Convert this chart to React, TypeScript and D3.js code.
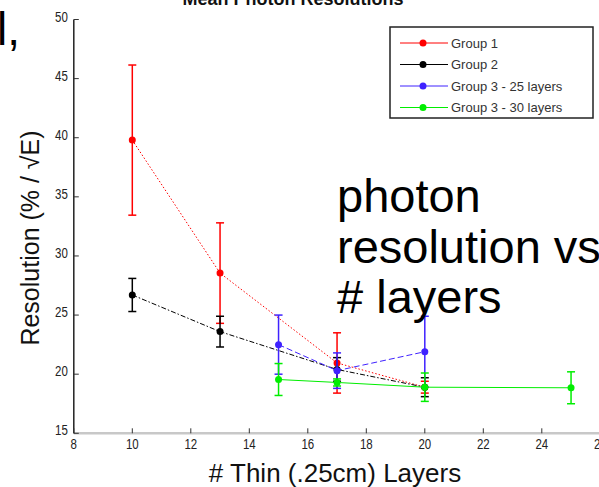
import React from "react";
import * as d3 from "d3";

const W = 599;
const H = 487;

const xTicks = [8, 10, 12, 14, 16, 18, 20, 22, 24, 26];
const yTicks = [15, 20, 25, 30, 35, 40, 45, 50];

const group1X = [10, 13, 17, 20];
const group1Y = [39.8, 28.55, 20.95, 18.9];
const group1Err = [6.35, 4.25, 2.55, 0.5];

const group2X = [10, 13, 17, 20];
const group2Y = [26.7, 23.6, 20.4, 18.9];
const group2Err = [1.4, 1.3, 1.0, 0.8];

const group3aX = [15, 17, 20];
const group3aY = [22.5, 20.3, 21.9];
const group3aErr = [2.5, 1.5, 3.0];

const group3bX = [15, 17, 20, 25];
const group3bY = [19.55, 19.3, 18.9, 18.85];
const group3bErr = [1.35, 0.3, 1.2, 1.35];

const seriesNames = ["Group 1", "Group 2", "Group 3 - 25 layers", "Group 3 - 30 layers"];
const seriesColors = ["#ff0000", "#000000", "#3f22ff", "#00ee00"];
const seriesDash = ["1.5,2", "5,2,1.5,2", "6,3", ""];

export default function App() {
  const x = d3.scaleLinear().domain([8, 26]).range([73.8, 600.3]);
  const y = d3.scaleLinear().domain([15, 50]).range([433.3, 19.5]);

  const series = [
    { xs: group1X, ys: group1Y, es: group1Err },
    { xs: group2X, ys: group2Y, es: group2Err },
    { xs: group3aX, ys: group3aY, es: group3aErr },
    { xs: group3bX, ys: group3bY, es: group3bErr },
  ];

  const line = d3
    .line<[number, number]>()
    .x((d) => x(d[0]))
    .y((d) => y(d[1]));

  const font = "'Liberation Sans', Arial, sans-serif";

  return (
    <svg
      width={W}
      height={H}
      style={{ position: "absolute", left: 0, top: 0, background: "#fff" }}
      fontFamily={font}
    >
      {/* slide fragments */}
      <text x={-3} y={45} fontSize={46} fill="#000">l,</text>
      <text x={293} y={5} fontSize={18} fontWeight="bold" textAnchor="middle" fill="#111">
        Mean Photon Resolutions
      </text>

      {/* axes */}
      <line x1={x(8)} x2={W} y1={y(15)} y2={y(15)} stroke="#c8c8c8" strokeWidth={2.5} />
      <line x1={x(8)} x2={x(8)} y1={y(15)} y2={y(50)} stroke="#222" strokeWidth={1.5} />
      {xTicks.map((t) => (
        <g key={"xt" + t}>
          <line x1={x(t)} x2={x(t)} y1={y(15)} y2={y(15) - 5} stroke="#333" strokeWidth={1} />
          <text
            transform={`translate(${x(t)},${y(15) + 16}) scale(0.82,1)`}
            fontSize={14}
            textAnchor="middle"
            fill="#222"
          >
            {t}
          </text>
        </g>
      ))}
      {yTicks.map((t) => (
        <g key={"yt" + t}>
          <line x1={x(8)} x2={x(8) + 5} y1={y(t)} y2={y(t)} stroke="#333" strokeWidth={1} />
          <text
            transform={`translate(${x(8) - 6},${y(t) + 2}) scale(0.82,1)`}
            fontSize={14}
            textAnchor="end"
            fill="#222"
          >
            {t}
          </text>
        </g>
      ))}
      <text
        transform={`translate(39,238) rotate(-90)`}
        fontSize={25}
        textAnchor="middle"
        fill="#111"
      >
        Resolution (% / √E)
      </text>
      <text x={335} y={482} fontSize={26} textAnchor="middle" fill="#111">
        # Thin (.25cm) Layers
      </text>

      {/* series */}
      {series.map((s, i) => {
        const pts = s.xs.map((xv, j) => [xv, s.ys[j]] as [number, number]);
        return (
          <g key={"s" + i}>
            <path
              d={line(pts) || ""}
              fill="none"
              stroke={seriesColors[i]}
              strokeWidth={1}
              strokeDasharray={seriesDash[i]}
            />
            {pts.map((p, j) => {
              const e = s.es[j];
              const cx = x(p[0]);
              return (
                <g key={j}>
                  <line x1={cx} x2={cx} y1={y(p[1] - e)} y2={y(p[1] + e)} stroke={seriesColors[i]} strokeWidth={1.5} />
                  <line x1={cx - 4} x2={cx + 4} y1={y(p[1] - e)} y2={y(p[1] - e)} stroke={seriesColors[i]} strokeWidth={1.5} />
                  <line x1={cx - 4} x2={cx + 4} y1={y(p[1] + e)} y2={y(p[1] + e)} stroke={seriesColors[i]} strokeWidth={1.5} />
                  <circle cx={cx} cy={y(p[1])} r={3.5} fill={seriesColors[i]} />
                </g>
              );
            })}
          </g>
        );
      })}

      {/* legend */}
      <rect x={390} y={27} width={203} height={91} fill="#fff" stroke="#222" strokeWidth={1.5} />
      {seriesNames.map((n, i) => {
        const ly = 43 + i * 21.5;
        return (
          <g key={"lg" + i}>
            <line x1={400} x2={448} y1={ly} y2={ly} stroke={seriesColors[i]} strokeWidth={1} />
            <circle cx={423} cy={ly} r={3.5} fill={seriesColors[i]} />
            <text x={451} y={ly + 4.5} fontSize={13} fill="#333">
              {n}
            </text>
          </g>
        );
      })}

      {/* slide overlay text */}
      <text fontSize={47} fill="#000">
        <tspan x={337} y={212}>photon</tspan>
        <tspan x={337} y={263}>resolution vs</tspan>
        <tspan x={337} y={313}># layers</tspan>
      </text>
    </svg>
  );
}
